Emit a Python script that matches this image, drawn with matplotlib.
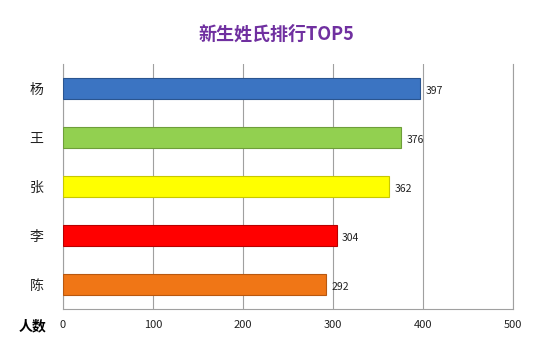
import matplotlib.pyplot as plt

plt.rcParams['font.family'] = ['Noto Sans CJK SC', 'DejaVu Sans']

# data
names = ['杨', '王', '张', '李', '陈']
counts = [397, 376, 362, 304, 292]
colors = ['#3B74C2', '#92D050', '#FFFF00', '#FF0000', '#F07616']
edges = ['#2A5590', '#6E9E3A', '#C8C800', '#B80000', '#B85810']
xticks = [0, 100, 200, 300, 400, 500]

fig = plt.figure(figsize=(5.58, 3.56), dpi=100)
ax = fig.add_axes([0.1129, 0.132, 0.8065, 0.688])

ypos = list(range(len(names)))[::-1]
ax.barh(ypos, counts, height=0.42, color=colors, edgecolor=edges, linewidth=0.8, zorder=3)

for y, v in zip(ypos, counts):
    ax.text(v + 6, y - 0.05, str(v), va='center', ha='left', fontsize=7.5, color='#222222')

ax.set_xlim(0, 500)
ax.set_ylim(-0.5, len(names) - 0.5)
ax.set_xticks(xticks)
ax.set_xticklabels([str(t) for t in xticks], fontsize=8)
ax.set_yticks(ypos)
ax.set_yticklabels(names, fontsize=10)
ax.tick_params(axis='both', length=0, pad=8, colors='#222222')
ax.tick_params(axis='y', pad=14)
ax.grid(axis='x', color='#A0A0A0', linewidth=0.8, zorder=0)
ax.spines['top'].set_visible(False)
for s in ['left', 'bottom', 'right']:
    ax.spines[s].set_color('#A0A0A0')
    ax.spines[s].set_linewidth(0.8)

fig.text(0.495, 0.905, '新生姓氏排行TOP5', ha='center', va='center', fontsize=13,
         fontweight='bold', color='#7030A0')
fig.text(0.058, 0.083, '人数', ha='center', va='center', fontsize=10, fontweight='bold')

fig.savefig('out.png', dpi=100)
